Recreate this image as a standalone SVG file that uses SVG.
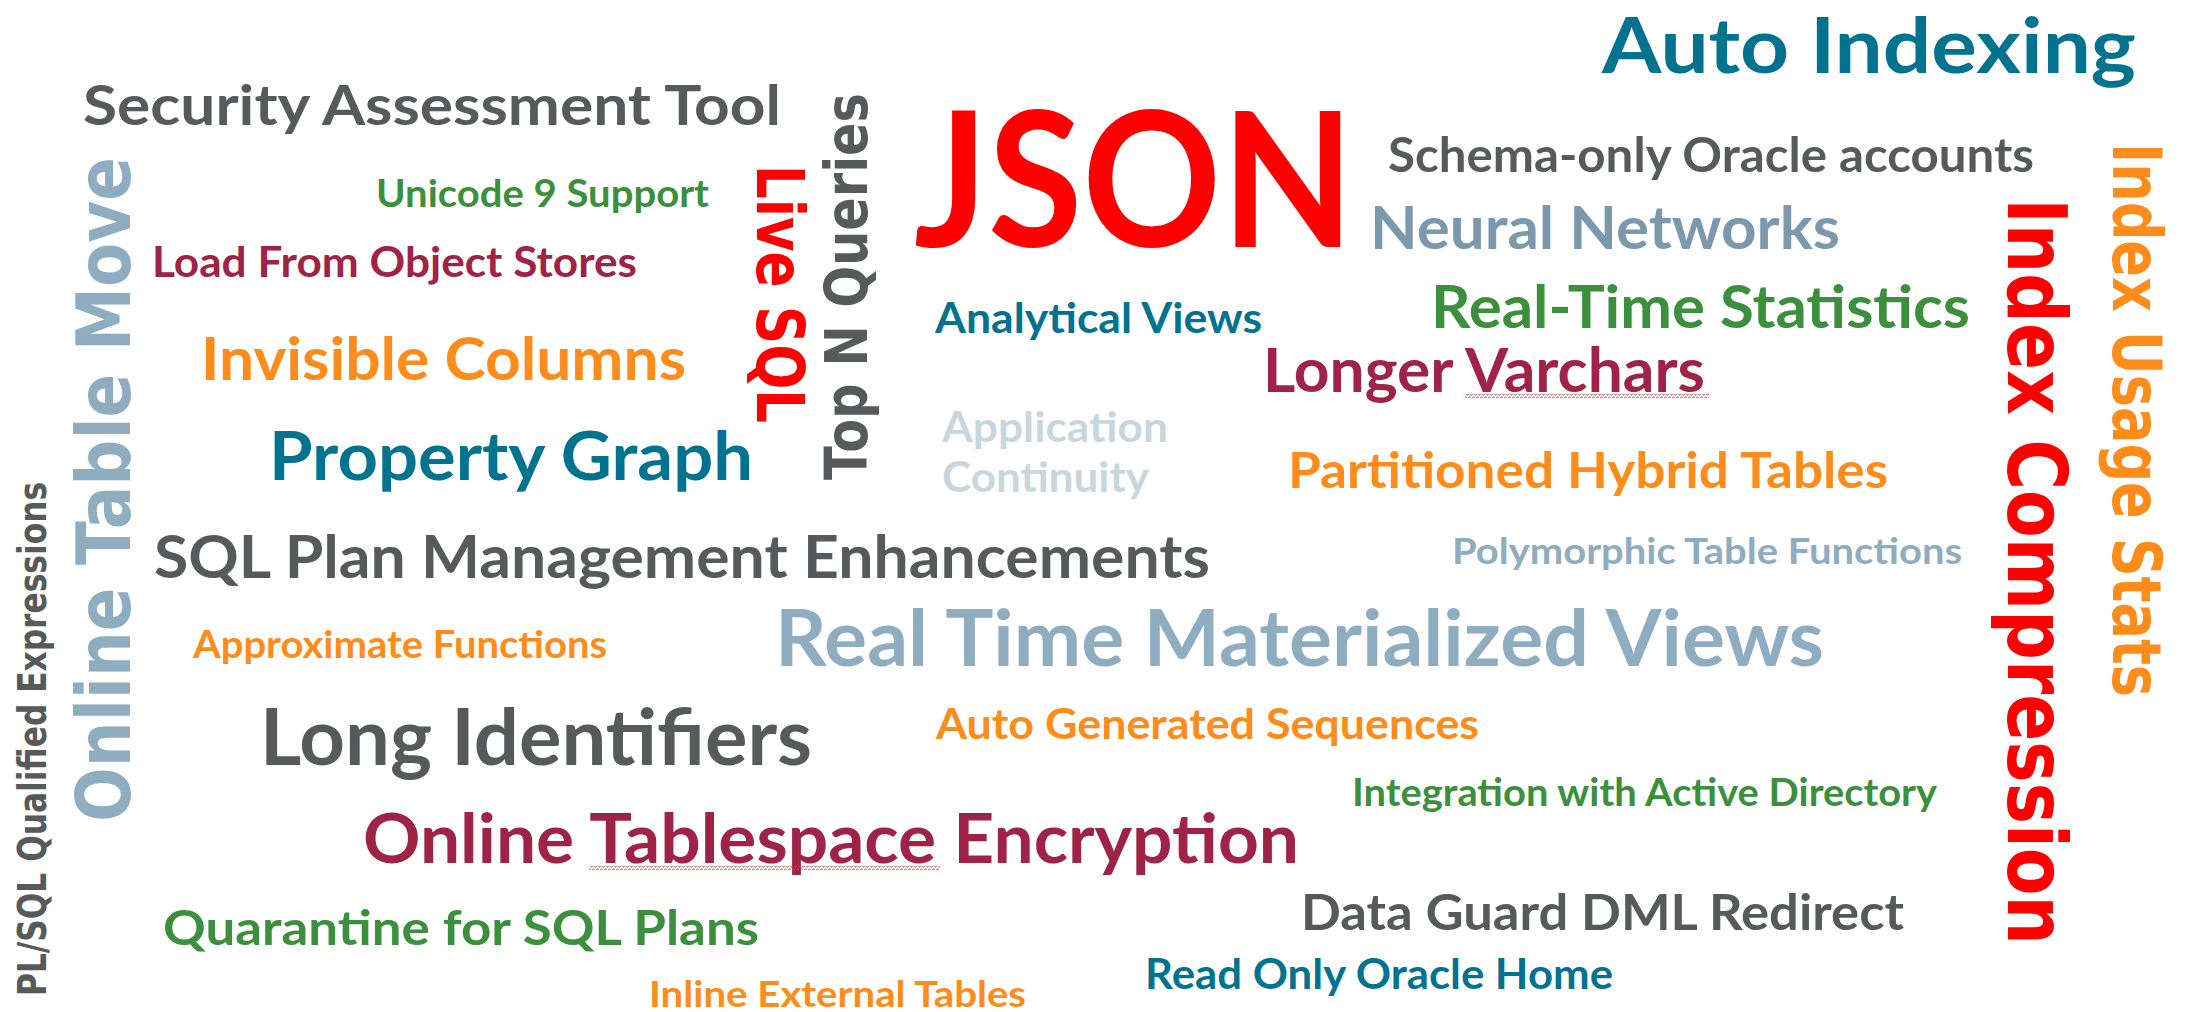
<svg xmlns="http://www.w3.org/2000/svg" width="2190" height="1012" viewBox="0 0 2190 1012">
  <defs>
    <style>
      .w { font-family: "Lato", "Liberation Sans", sans-serif; font-weight: 700; }
      .v { font-family: "DejaVu Sans", "Liberation Sans", sans-serif; font-weight: 700; }
      .gray { fill: #58595b; }
      .red { fill: #ff0000; }
      .teal { fill: #02738f; }
      .orange { fill: #fd8c1a; }
      .green { fill: #3c8f3c; }
      .maroon { fill: #9f2346; }
      .steel { fill: #8eadc0; }
      .slate { fill: #7c98ad; }
      .pale { fill: #c8d7de; }
    </style>
    <!-- wavy spell-check underline -->
    <pattern id="squiggle" width="4" height="4" patternUnits="userSpaceOnUse">
      <path d="M0,3 L1,1 L2,1 L3,3 L4,3" fill="none" stroke="#e5383b" stroke-width="0.9"/>
    </pattern>
  </defs>

  <rect width="2190" height="1012" fill="#ffffff"/>

  <!-- horizontal words -->
  <g id="security-assessment-tool"><text class="w gray" x="83" y="125" font-size="56" textLength="698" lengthAdjust="spacingAndGlyphs">Security Assessment Tool</text></g>
  <g id="unicode-9-support"><text class="w green" x="376" y="207" font-size="38" textLength="333" lengthAdjust="spacingAndGlyphs">Unicode 9 Support</text></g>
  <g id="load-from-object-stores"><text class="w maroon" x="152" y="277" font-size="42" textLength="485" lengthAdjust="spacingAndGlyphs">Load From Object Stores</text></g>
  <g id="invisible-columns"><text class="w orange" x="201" y="380" font-size="60" textLength="485" lengthAdjust="spacingAndGlyphs">Invisible Columns</text></g>
  <g id="property-graph"><text class="w teal" x="269" y="480" font-size="67" textLength="484" lengthAdjust="spacingAndGlyphs">Property Graph</text></g>
  <g id="json"><text class="w red" x="914" y="247" font-size="188" textLength="440" lengthAdjust="spacingAndGlyphs">JSON</text></g>
  <g id="auto-indexing"><text class="w teal" x="1602" y="73" font-size="77" textLength="534" lengthAdjust="spacingAndGlyphs">Auto Indexing</text></g>
  <g id="schema-only-accounts"><text class="w gray" x="1388" y="172" font-size="47" textLength="646" lengthAdjust="spacingAndGlyphs">Schema-only Oracle accounts</text></g>
  <g id="neural-networks"><text class="w slate" x="1370" y="249" font-size="59" textLength="470" lengthAdjust="spacingAndGlyphs">Neural Networks</text></g>
  <g id="analytical-views"><text class="w teal" x="935" y="333" font-size="42" textLength="327" lengthAdjust="spacingAndGlyphs">Analytical Views</text></g>
  <g id="real-time-statistics"><text class="w green" x="1431" y="328" font-size="60" textLength="539" lengthAdjust="spacingAndGlyphs">Real-Time Statistics</text></g>
  <g id="longer-varchars">
    <text class="w maroon" x="1263" y="392" font-size="61" textLength="442" lengthAdjust="spacingAndGlyphs">Longer Varchars</text>
    <rect x="1465" y="394" width="244" height="4" fill="url(#squiggle)"/>
  </g>
  <g id="application-continuity">
    <text class="w pale" x="942" y="442" font-size="42" textLength="226" lengthAdjust="spacingAndGlyphs">Application</text>
    <text class="w pale" x="942" y="492" font-size="42" textLength="207" lengthAdjust="spacingAndGlyphs">Continuity</text>
  </g>
  <g id="partitioned-hybrid-tables"><text class="w orange" x="1288" y="488" font-size="50" textLength="600" lengthAdjust="spacingAndGlyphs">Partitioned Hybrid Tables</text></g>
  <g id="sql-plan-management"><text class="w gray" x="154" y="578" font-size="59" textLength="1056" lengthAdjust="spacingAndGlyphs">SQL Plan Management Enhancements</text></g>
  <g id="polymorphic-table-functions"><text class="w steel" x="1452" y="564" font-size="36" textLength="510" lengthAdjust="spacingAndGlyphs">Polymorphic Table Functions</text></g>
  <g id="approximate-functions"><text class="w orange" x="193" y="658" font-size="38" textLength="414" lengthAdjust="spacingAndGlyphs">Approximate Functions</text></g>
  <g id="real-time-mviews"><text class="w steel" x="775" y="666" font-size="78" textLength="1049" lengthAdjust="spacingAndGlyphs">Real Time Materialized Views</text></g>
  <g id="long-identifiers"><text class="w gray" x="260" y="765" font-size="78" textLength="552" lengthAdjust="spacingAndGlyphs">Long Identifiers</text></g>
  <g id="auto-generated-sequences"><text class="w orange" x="936" y="739" font-size="42" textLength="543" lengthAdjust="spacingAndGlyphs">Auto Generated Sequences</text></g>
  <g id="integration-active-directory"><text class="w green" x="1352" y="806" font-size="39" textLength="585" lengthAdjust="spacingAndGlyphs">Integration with Active Directory</text></g>
  <g id="online-tablespace-encryption">
    <text class="w maroon" x="363" y="863" font-size="68" textLength="936" lengthAdjust="spacingAndGlyphs">Online Tablespace Encryption</text>
    <rect x="589" y="866" width="351" height="4" fill="url(#squiggle)"/>
  </g>
  <g id="data-guard-dml-redirect"><text class="w gray" x="1301" y="930" font-size="49" textLength="603" lengthAdjust="spacingAndGlyphs">Data Guard DML Redirect</text></g>
  <g id="quarantine-sql-plans"><text class="w green" x="163" y="945" font-size="47" textLength="596" lengthAdjust="spacingAndGlyphs">Quarantine for SQL Plans</text></g>
  <g id="read-only-oracle-home"><text class="w teal" x="1145" y="989" font-size="42" textLength="468" lengthAdjust="spacingAndGlyphs">Read Only Oracle Home</text></g>
  <g id="inline-external-tables"><text class="w orange" x="649" y="1007" font-size="36" textLength="377" lengthAdjust="spacingAndGlyphs">Inline External Tables</text></g>

  <!-- vertical words -->
  <g id="plsql-qualified-expressions"><text class="v gray" transform="translate(46,996) rotate(-90)" font-size="39" textLength="514" lengthAdjust="spacingAndGlyphs">PL/SQL Qualified Expressions</text></g>
  <g id="online-table-move"><text class="v steel" transform="translate(130,822) rotate(-90)" font-size="74" textLength="665" lengthAdjust="spacingAndGlyphs">Online Table Move</text></g>
  <g id="top-n-queries"><text class="v gray" transform="translate(867,480) rotate(-90)" font-size="58" textLength="387" lengthAdjust="spacingAndGlyphs">Top N Queries</text></g>
  <g id="live-sql"><text class="v red" transform="translate(757,165) rotate(90)" font-size="66" textLength="258" lengthAdjust="spacingAndGlyphs">Live SQL</text></g>
  <g id="index-compression"><text class="v red" transform="translate(2008,198) rotate(90)" font-size="82" textLength="747" lengthAdjust="spacingAndGlyphs">Index Compression</text></g>
  <g id="index-usage-stats"><text class="v orange" transform="translate(2113,143) rotate(90)" font-size="68" textLength="554" lengthAdjust="spacingAndGlyphs">Index Usage Stats</text></g>
</svg>
